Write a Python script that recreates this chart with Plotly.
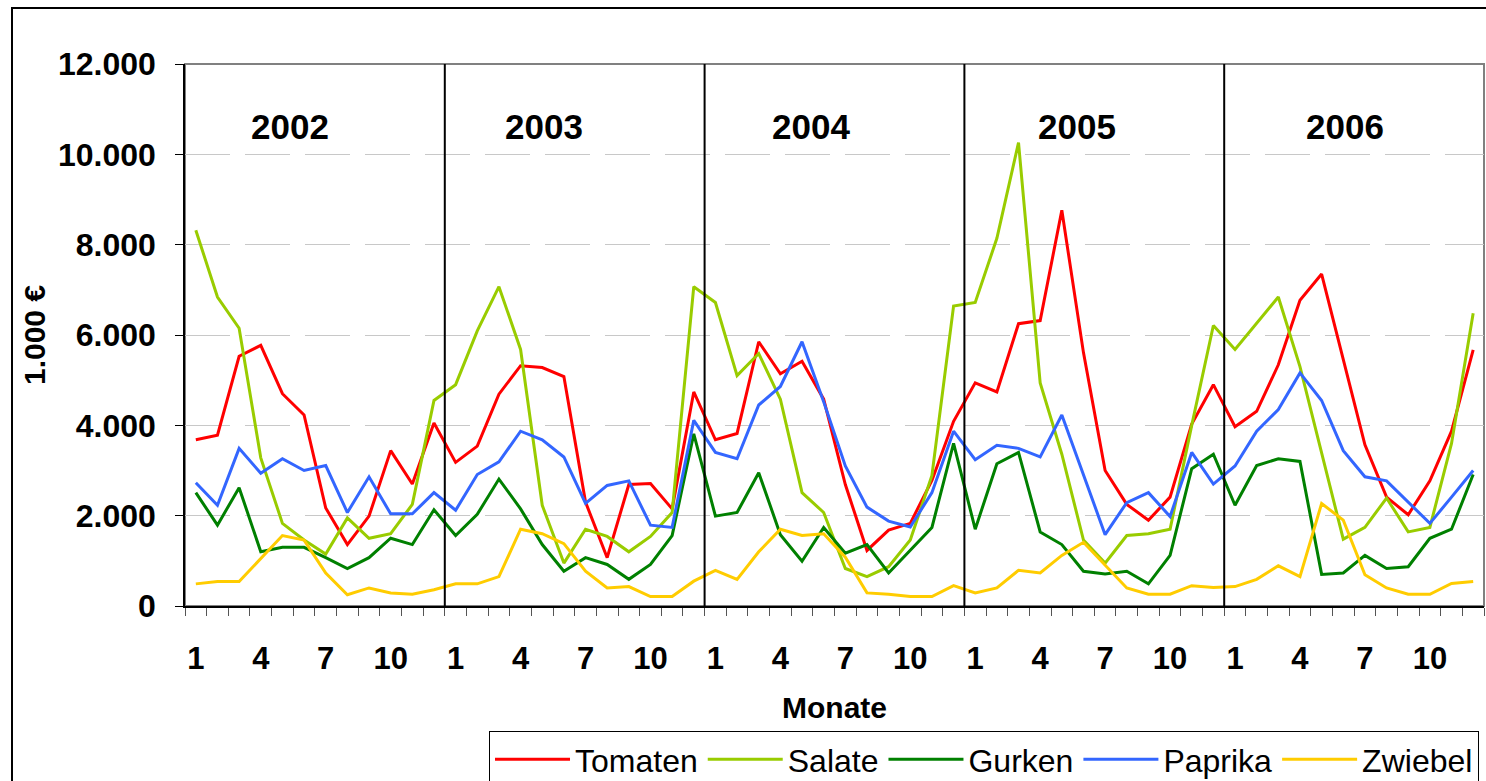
import plotly.graph_objects as go

years = ["2002", "2003", "2004", "2005", "2006"]
month_labels = ["1", "4", "7", "10"]
month_label_nums = [1, 4, 7, 10]

tomaten = [3680, 3780, 5530, 5770, 4700, 4230, 2170, 1360, 1990, 3440, 2700, 4050,
           3180, 3540, 4690, 5320, 5280, 5080, 2300, 1070, 2690, 2710, 2150, 4740,
           3680, 3820, 5850, 5140, 5420, 4580, 2690, 1230, 1680, 1830, 2780, 4090,
           4940, 4740, 6250, 6320, 8760, 5610, 3000, 2250, 1900, 2410, 4030, 4900,
           3970, 4310, 5340, 6770, 7350, 5490, 3570, 2410, 2020, 2770, 3870, 5670]
salate = [8320, 6840, 6150, 3280, 1830, 1460, 1150, 1950, 1500, 1600, 2250, 4550,
          4900, 6090, 7070, 5680, 2230, 950, 1700, 1540, 1200, 1540, 2070, 7070,
          6720, 5100, 5590, 4580, 2510, 2070, 830, 650, 870, 1460, 2890, 6640,
          6720, 8140, 10260, 4940, 3360, 1460, 950, 1560, 1600, 1700, 4000, 6210,
          5680, 6250, 6840, 5300, 3400, 1480, 1740, 2390, 1640, 1740, 3600, 6480]
gurken = [2510, 1790, 2620, 1200, 1300, 1300, 1070, 830, 1070, 1500, 1360, 2130,
          1560, 2030, 2810, 2150, 1360, 770, 1070, 920, 590, 920, 1560, 3810,
          1990, 2070, 2950, 1580, 990, 1740, 1170, 1360, 730, 1240, 1740, 3600,
          1700, 3150, 3400, 1640, 1360, 770, 710, 770, 490, 1120, 3040, 3360,
          2230, 3110, 3260, 3200, 700, 730, 1120, 830, 870, 1500, 1700, 2910]
paprika = [2730, 2230, 3490, 2940, 3260, 3000, 3110, 2070, 2860, 2040, 2040, 2510,
           2120, 2910, 3190, 3870, 3680, 3300, 2270, 2670, 2770, 1790, 1740, 4110,
           3400, 3260, 4450, 4860, 5850, 4520, 3100, 2190, 1880, 1750, 2510, 3870,
           3240, 3560, 3490, 3300, 4230, 2890, 1580, 2290, 2510, 1980, 3400, 2700,
           3100, 3870, 4350, 5160, 4550, 3440, 2860, 2770, 2290, 1830, 2410, 3000]
zwiebel = [490, 540, 540, 1040, 1560, 1460, 730, 250, 400, 290, 260, 360,
           490, 490, 650, 1700, 1600, 1380, 770, 400, 430, 210, 210, 550,
           790, 590, 1200, 1700, 1560, 1600, 1080, 290, 260, 210, 210, 450,
           290, 400, 790, 730, 1120, 1410, 910, 400, 260, 260, 450, 410,
           430, 590, 890, 650, 2270, 1900, 690, 400, 260, 260, 500, 540]

series_names = ["Tomaten", "Salate", "Gurken", "Paprika", "Zwiebel"]
series_values = [tomaten, salate, gurken, paprika, zwiebel]
series_colors = ["#FF0000", "#99CC00", "#008000", "#3366FF", "#FFCC00"]

n = len(tomaten)
x = list(range(1, n + 1))

FONT = "Liberation Sans, Arial, sans-serif"

fig = go.Figure()
for name, vals, col in zip(series_names, series_values, series_colors):
    fig.add_trace(go.Scatter(x=x, y=vals, mode="lines", name=name,
                             line=dict(color=col, width=3)))

tickvals = []
ticktext = []
for yi in range(len(years)):
    for m, lab in zip(month_label_nums, month_labels):
        tickvals.append(yi * 12 + m)
        ticktext.append(lab)

W, H = 1486, 781
ml, mr, mt, mb = 185, 2, 64, 175
pw, ph = W - ml - mr, H - mt - mb

def px_x(p):
    return (p - ml) / pw

def px_y(p):
    return (H - mb - p) / ph

shapes = []
# year separators
for yi in range(1, len(years)):
    shapes.append(dict(type="line", xref="x", yref="paper", x0=yi * 12 + 0.5, x1=yi * 12 + 0.5,
                       y0=0, y1=1, line=dict(color="black", width=2)))
# plot frame (top/right gray)
shapes.append(dict(type="rect", xref="paper", yref="paper", x0=0, x1=1, y0=0, y1=1,
                   line=dict(color="#808080", width=2), layer="below"))
# outer chart border
shapes.append(dict(type="rect", xref="paper", yref="paper",
                   x0=px_x(12), x1=px_x(1500), y0=px_y(800), y1=px_y(8),
                   line=dict(color="black", width=2)))

year_label_x = [5.35, 17.1, 29.4, 41.7, 54.1]
annotations = []
for yr, xp in zip(years, year_label_x):
    annotations.append(dict(text="<b>" + yr + "</b>", x=xp, y=px_y(126), xref="x", yref="paper",
                            showarrow=False, font=dict(size=35, color="black", family=FONT),
                            xanchor="center", yanchor="middle"))

fig.update_layout(
    width=W, height=H,
    margin=dict(l=ml, r=mr, t=mt, b=mb, autoexpand=False),
    paper_bgcolor="white", plot_bgcolor="white",
    separators=",.",
    font=dict(family=FONT, color="black"),
    shapes=shapes,
    annotations=annotations,
    legend=dict(orientation="h", xref="container", yref="container",
                x=489 / W, y=1 - 731 / H, xanchor="left", yanchor="top",
                bordercolor="black", borderwidth=1, bgcolor="white",
                font=dict(size=32, family=FONT),
                itemwidth=75, tracegroupgap=0),
    showlegend=True,
)

fig.update_xaxes(
    range=[0.5, n + 0.5], automargin=False,
    tickmode="array", tickvals=tickvals, ticktext=ticktext,
    ticks="", showgrid=False, zeroline=False,
    showline=True, linecolor="black", linewidth=2,
    tickfont=dict(size=31, family=FONT, weight="bold"),
    ticklabelstandoff=24,
    minor=dict(ticks="outside", ticklen=8, tickcolor="#555555", tickwidth=1,
               tickmode="linear", tick0=0.5, dtick=1, showgrid=False),
    title=dict(text="<b>Monate</b>", font=dict(size=30), standoff=22),
)

fig.update_yaxes(
    range=[0, 12000], automargin=False,
    tickmode="linear", tick0=0, dtick=2000, tickformat=",d",
    ticks="outside", ticklen=8, tickcolor="black",
    showline=True, linecolor="black", linewidth=1.5,
    showgrid=True, gridcolor="#C8C8C8", gridwidth=1, griddash="45px,15px",
    zeroline=False,
    tickfont=dict(size=32, family=FONT, weight="bold"),
    ticklabelstandoff=13,
    title=dict(text="<b>1.000 €</b>", font=dict(size=30), standoff=3),
)

fig.write_html("out.html", config={"displayModeBar": False},
               post_script="document.body.style.margin='0';document.body.style.overflow='hidden';")
